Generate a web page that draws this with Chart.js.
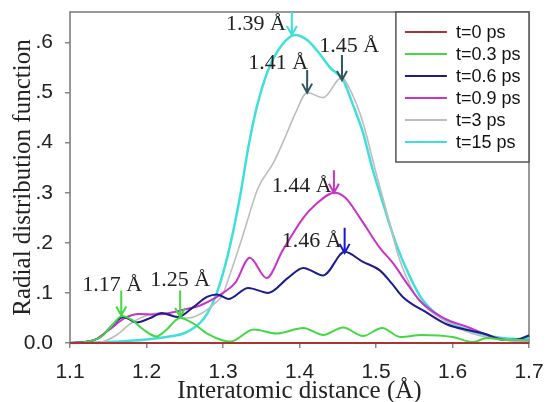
<!DOCTYPE html>
<html>
<head>
<meta charset="utf-8">
<script src="https://cdn.jsdelivr.net/npm/chart.js@4"></script>
<style>
  html, body { margin: 0; padding: 0; background: #fff; }
  #wrap { width: 546px; height: 402px; }
</style>
</head>
<body>
<div id="wrap"><canvas id="rdf"></canvas></div>
<script>
// series labels and colours
let seriesLabels = ['t=0 ps', 't=0.3 ps', 't=0.6 ps', 't=0.9 ps', 't=3 ps', 't=15 ps']
let seriesColors = ['#a83434', '#44d844', '#1c1c8c', '#c833c8', '#bdbdbd', '#3fe0dc']

// tick labels
let xTickValues = [1.1, 1.2, 1.3, 1.4, 1.5, 1.6, 1.7]
let xTickLabels = ['1.1', '1.2', '1.3', '1.4', '1.5', '1.6', '1.7']
let yTickValues = [0, 0.1, 0.2, 0.3, 0.4, 0.5, 0.6]
let yTickLabels = ['0.0', '.1', '.2', '.3', '.4', '.5', '.6']

// t=0 ps
let t0_x = [1.1, 1.7]
let t0_y = [0, 0]

// t=0.3 ps
let t03_x = [1.10, 1.12, 1.14, 1.155, 1.168, 1.18, 1.195, 1.213, 1.225, 1.244, 1.26, 1.28, 1.30, 1.31, 1.34, 1.37, 1.405, 1.431, 1.457, 1.483, 1.508, 1.532, 1.56, 1.60, 1.627, 1.645, 1.67, 1.70]
let t03_y = [0, 0.002, 0.012, 0.035, 0.054, 0.047, 0.028, 0.013, 0.025, 0.05, 0.04, 0.018, 0.005, 0.003, 0.027, 0.019, 0.03, 0.016, 0.031, 0.014, 0.03, 0.012, 0.016, 0.012, 0.002, 0.01, 0.006, 0.006]

// t=0.6 ps
let t06_x = [1.10, 1.12, 1.14, 1.155, 1.17, 1.187, 1.205, 1.22, 1.241, 1.26, 1.279, 1.292, 1.307, 1.333, 1.359, 1.385, 1.405, 1.431, 1.459, 1.483, 1.505, 1.52, 1.535, 1.567, 1.593, 1.623, 1.645, 1.666, 1.685, 1.70]
let t06_y = [0, 0.002, 0.012, 0.035, 0.052, 0.041, 0.05, 0.06, 0.052, 0.07, 0.092, 0.097, 0.088, 0.11, 0.10, 0.13, 0.15, 0.135, 0.182, 0.162, 0.145, 0.12, 0.092, 0.06, 0.037, 0.025, 0.017, 0.006, 0.007, 0.015]

// t=0.9 ps
let t09_x = [1.10, 1.13, 1.15, 1.172, 1.19, 1.21, 1.23, 1.25, 1.27, 1.29, 1.30, 1.316, 1.335, 1.357, 1.378, 1.405, 1.42, 1.446, 1.46, 1.479, 1.505, 1.522, 1.54, 1.557, 1.588, 1.623, 1.653, 1.68, 1.70]
let t09_y = [0, 0.005, 0.025, 0.05, 0.058, 0.057, 0.06, 0.067, 0.075, 0.09, 0.10, 0.12, 0.17, 0.13, 0.185, 0.25, 0.275, 0.30, 0.29, 0.25, 0.19, 0.16, 0.12, 0.085, 0.05, 0.03, 0.012, 0.005, 0.005]

// t=3 ps
let t3_x = [1.10, 1.14, 1.16, 1.18, 1.20, 1.215, 1.235, 1.255, 1.275, 1.29, 1.299, 1.312, 1.325, 1.346, 1.366, 1.381, 1.395, 1.41, 1.431, 1.455, 1.468, 1.483, 1.50, 1.516, 1.53, 1.55, 1.57, 1.59, 1.61, 1.64, 1.67, 1.70]
let t3_y = [0, 0.002, 0.015, 0.04, 0.055, 0.06, 0.053, 0.05, 0.062, 0.08, 0.095, 0.15, 0.21, 0.31, 0.36, 0.41, 0.46, 0.50, 0.49, 0.53, 0.50, 0.44, 0.34, 0.25, 0.17, 0.10, 0.065, 0.045, 0.028, 0.013, 0.007, 0.005]

// t=15 ps
let t15_x = [1.10, 1.15, 1.20, 1.23, 1.25, 1.27, 1.28, 1.292, 1.307, 1.322, 1.333, 1.344, 1.359, 1.377, 1.394, 1.41, 1.425, 1.44, 1.457, 1.47, 1.483, 1.495, 1.51, 1.527, 1.545, 1.56, 1.584, 1.60, 1.623, 1.645, 1.665, 1.685, 1.70]
let t15_y = [0, 0.002, 0.007, 0.013, 0.02, 0.04, 0.06, 0.10, 0.18, 0.29, 0.39, 0.47, 0.545, 0.595, 0.615, 0.605, 0.58, 0.55, 0.525, 0.475, 0.42, 0.35, 0.275, 0.195, 0.13, 0.088, 0.052, 0.037, 0.025, 0.015, 0.01, 0.008, 0.01]

let seriesX = [t0_x, t03_x, t06_x, t09_x, t3_x, t15_x]
let seriesY = [t0_y, t03_y, t06_y, t09_y, t3_y, t15_y]

// peak labels with arrows (data units)
let peakText = ['1.39 Å', '1.41 Å', '1.45 Å', '1.44 Å', '1.46 Å', '1.17 Å', '1.25 Å']
let peakX = [1.39, 1.41, 1.4555, 1.445, 1.459, 1.167, 1.244]
let arrowTop = [0.661, 0.545, 0.575, 0.345, 0.23, 0.105, 0.105]
let arrowTip = [0.615, 0.50, 0.525, 0.30, 0.18, 0.055, 0.052]
let labelX = [1.343, 1.372, 1.465, 1.403, 1.416, 1.155, 1.244]
let labelY = [0.637, 0.559, 0.593, 0.313, 0.203, 0.115, 0.125]
let arrowColors = ['#3fe0dc', '#2f5560', '#2f5560', '#c833c8', '#1a1acc', '#44d844', '#44d844']

let frame_plugin = {
    id: 'frame_plugin',
    beforeDatasetsDraw(chart){
        let ctx = chart.ctx
        let a = chart.chartArea
        ctx.save()
        ctx.strokeStyle = '#777'
        ctx.lineWidth = 1.5
        ctx.strokeRect(a.left, a.top, a.right - a.left, a.bottom - a.top)
        ctx.restore()
    },
    afterDatasetsDraw(chart){
        let ctx = chart.ctx
        let xs = chart.scales.x
        let ys = chart.scales.y
        ctx.save()
        // arrows + labels
        for (let i = 0; i < peakText.length; i++) {
            let px = xs.getPixelForValue(peakX[i])
            let y1 = ys.getPixelForValue(arrowTop[i])
            let y2 = ys.getPixelForValue(arrowTip[i])
            ctx.strokeStyle = arrowColors[i]
            ctx.lineWidth = 2
            ctx.beginPath()
            ctx.moveTo(px, y1)
            ctx.lineTo(px, y2)
            ctx.moveTo(px - 5, y2 - 9)
            ctx.lineTo(px, y2)
            ctx.lineTo(px + 5, y2 - 9)
            ctx.stroke()
        }
        ctx.fillStyle = '#222'
        ctx.font = '22px "Liberation Serif", "Times New Roman", serif'
        ctx.textAlign = 'center'
        ctx.textBaseline = 'middle'
        for (let i = 0; i < peakText.length; i++) {
            ctx.fillText(peakText[i], xs.getPixelForValue(labelX[i]), ys.getPixelForValue(labelY[i]))
        }

        // legend box
        let bx = xs.getPixelForValue(1.526)
        let by = chart.chartArea.top
        let bw = chart.chartArea.right - bx
        let bh = 150
        ctx.fillStyle = '#fff'
        ctx.fillRect(bx, by, bw, bh)
        ctx.strokeStyle = '#555'
        ctx.lineWidth = 1.5
        ctx.strokeRect(bx, by, bw, bh)
        ctx.font = '18px "Liberation Sans", Arial, sans-serif'
        ctx.textAlign = 'left'
        for (let i = 0; i < seriesLabels.length; i++) {
            let ry = by + 20 + i * 22
            ctx.strokeStyle = seriesColors[i]
            ctx.lineWidth = 2
            ctx.beginPath()
            ctx.moveTo(bx + 9, ry)
            ctx.lineTo(bx + 51, ry)
            ctx.stroke()
            ctx.fillStyle = '#111'
            ctx.fillText(seriesLabels[i], bx + 60, ry + 1)
        }
        ctx.restore()
    }
}

function make_datasets(){
    let list = []
    for (let i = 0; i < seriesLabels.length; i++) {
        list.push({
            label: seriesLabels[i],
            data: seriesX[i].map((x, j) => ({x: x, y: seriesY[i][j]})),
            borderColor: seriesColors[i],
            borderWidth: i == 5 ? 2.5 : (i == 4 ? 1.6 : 2),
            pointRadius: 0,
            cubicInterpolationMode: 'monotone',
            fill: false,
            clip: 3,
        })
    }
    return list
}

function fun_chart(){
    let ctx = document.getElementById('rdf').getContext('2d')
    let mychart = new Chart(ctx, {
        type: 'line',
        data: { datasets: make_datasets() },
        options: {
            responsive: true,
            maintainAspectRatio: false,
            animation: false,
            layout: { padding: { top: 12, right: 17, left: 0, bottom: 0 } },
            plugins: { legend: { display: false }, tooltip: { enabled: false } },
            scales: {
                x: {
                    type: 'linear',
                    min: 1.1,
                    max: 1.7,
                    afterFit(scale){
                        scale.height = 59
                        scale.paddingLeft = 0
                        scale.paddingRight = 0
                    },
                    afterBuildTicks(scale){ scale.ticks = xTickValues.map(v => ({value: v})) },
                    border: { display: false },
                    grid: { drawOnChartArea: false, drawTicks: true, tickLength: 5, color: '#888', lineWidth: 1.5 },
                    ticks: {
                        padding: 12,
                        color: '#222',
                        font: { family: '"Liberation Sans", Arial, sans-serif', size: 21 },
                        maxRotation: 0,
                        callback: (v, i) => xTickLabels[i],
                    },
                    title: {
                        display: true,
                        text: 'Interatomic distance (Å)',
                        color: '#222',
                        font: { family: '"Liberation Serif", "Times New Roman", serif', size: 25, lineHeight: 1 },
                        padding: { top: 0, bottom: -2 },
                    },
                },
                y: {
                    min: 0,
                    max: 0.661,
                    afterFit(scale){
                        scale.width = 70
                        scale.paddingTop = 0
                        scale.paddingBottom = 0
                    },
                    afterBuildTicks(scale){ scale.ticks = yTickValues.map(v => ({value: v})) },
                    border: { display: false },
                    grid: { drawOnChartArea: false, drawTicks: true, tickLength: 5, color: '#888', lineWidth: 1.5 },
                    ticks: {
                        padding: 12,
                        color: '#222',
                        font: { family: '"Liberation Sans", Arial, sans-serif', size: 21 },
                        callback: (v, i) => yTickLabels[i],
                    },
                    title: {
                        display: true,
                        text: 'Radial distribution function',
                        color: '#222',
                        font: { family: '"Liberation Serif", "Times New Roman", serif', size: 25, lineHeight: 1 },
                        padding: { top: 11, bottom: 0 },
                    },
                },
            },
        },
        plugins: [frame_plugin],
    })
}

document.addEventListener('DOMContentLoaded', function(){
    fun_chart()
})
</script>
</body>
</html>
